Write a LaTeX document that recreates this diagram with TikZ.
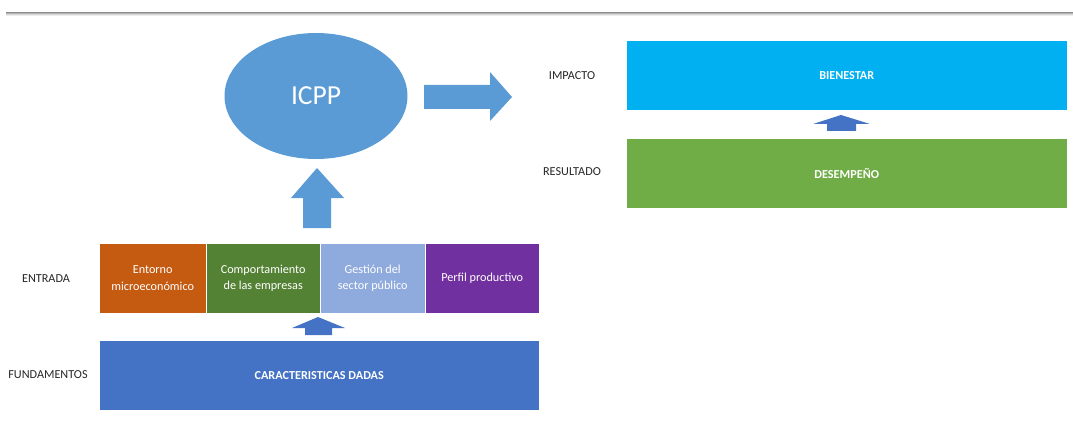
\documentclass[tikz,border=0pt]{standalone}
\usepackage{fontspec}
\setmainfont{Carlito}
\usetikzlibrary{shapes.geometric}
\definecolor{ellblue}{HTML}{5B9BD5}
\definecolor{darkblue}{HTML}{4472C4}
\definecolor{cyanbox}{HTML}{00B0F0}
\definecolor{greenbox}{HTML}{70AD47}
\definecolor{orangebox}{HTML}{C55A11}
\definecolor{dgreen}{HTML}{548235}
\definecolor{lblue}{HTML}{8FAADC}
\definecolor{purplebox}{HTML}{7030A0}
\tikzset{
  box/.style={draw=white, line width=0.4pt, inner sep=0pt, anchor=north west, text=white, align=center,
     font=\fontsize{12.2}{16.5}\selectfont},
  capbox/.style={box, font=\fontsize{12.2}{14}\selectfont\bfseries},
  lab/.style={font=\fontsize{12.2}{14}\selectfont, text=black!85},
  blockarrow/.style={fill=ellblue},
  smallarrow/.style={fill=darkblue}
}
\begin{document}
\begin{tikzpicture}[x=1pt,y=-1pt]
\useasboundingbox (0,0) rectangle (1073,441);
% top rule with shadow
\foreach \d/\o in {0/45,1/30,2/16,3/7}{
  \draw[black!\o, line width=1pt] (6,13+\d) -- (1073,13+\d);
}
% ellipse
\node[ellipse, fill=ellblue, minimum width=183pt, minimum height=126pt, inner sep=0pt,
      text=white, font=\fontsize{27.5}{30}\selectfont] (icpp) at (316,96) {ICPP};
% right block arrow
\fill[blockarrow] (424,85) -- (490,85) -- (490,72) -- (512,97) -- (490,121) -- (490,109) -- (424,109) -- cycle;
% up block arrow
\fill[blockarrow] (303,228) -- (303,198) -- (291,198) -- (317,168) -- (344,198) -- (331,198) -- (331,228) -- cycle;
% right side boxes
\node[capbox, fill=cyanbox, minimum width=441pt, minimum height=70pt] (bien) at (626,40) {BIENESTAR};
\node[capbox, fill=greenbox, minimum width=441pt, minimum height=70pt] (desem) at (626,138) {DESEMPEÑO};
\fill[smallarrow] (827,131) -- (827,124) -- (813,124) -- (841,115) -- (870,124) -- (856,124) -- (856,131) -- cycle;
\node[lab] (impacto) at (572,76) {IMPACTO};
\node[lab] (result) at (572,172) {RESULTADO};
% entrada row
\node[box, fill=orangebox, minimum width=107pt, minimum height=70pt] (ent) at (99,243) {Entorno\\microeconómico};
\node[box, fill=dgreen, minimum width=114pt, minimum height=70pt] (comp) at (206,243) {Comportamiento\\de las empresas};
\node[box, fill=lblue, minimum width=105pt, minimum height=70pt] (gest) at (320,243) {Gestión del\\sector público};
\node[box, fill=purplebox, minimum width=114pt, minimum height=70pt] (perf) at (425,243) {Perfil productivo};
\node[lab] (entrada) at (46,279) {ENTRADA};
% small arrow
\fill[smallarrow] (305,335) -- (305,328) -- (292,328) -- (318,317) -- (345,328) -- (332,328) -- (332,335) -- cycle;
% fundamentos
\node[capbox, fill=darkblue, minimum width=440pt, minimum height=70pt] (car) at (99,340) {CARACTERISTICAS DADAS};
\node[lab] (fund) at (48,375) {FUNDAMENTOS};
\end{tikzpicture}
\end{document}
